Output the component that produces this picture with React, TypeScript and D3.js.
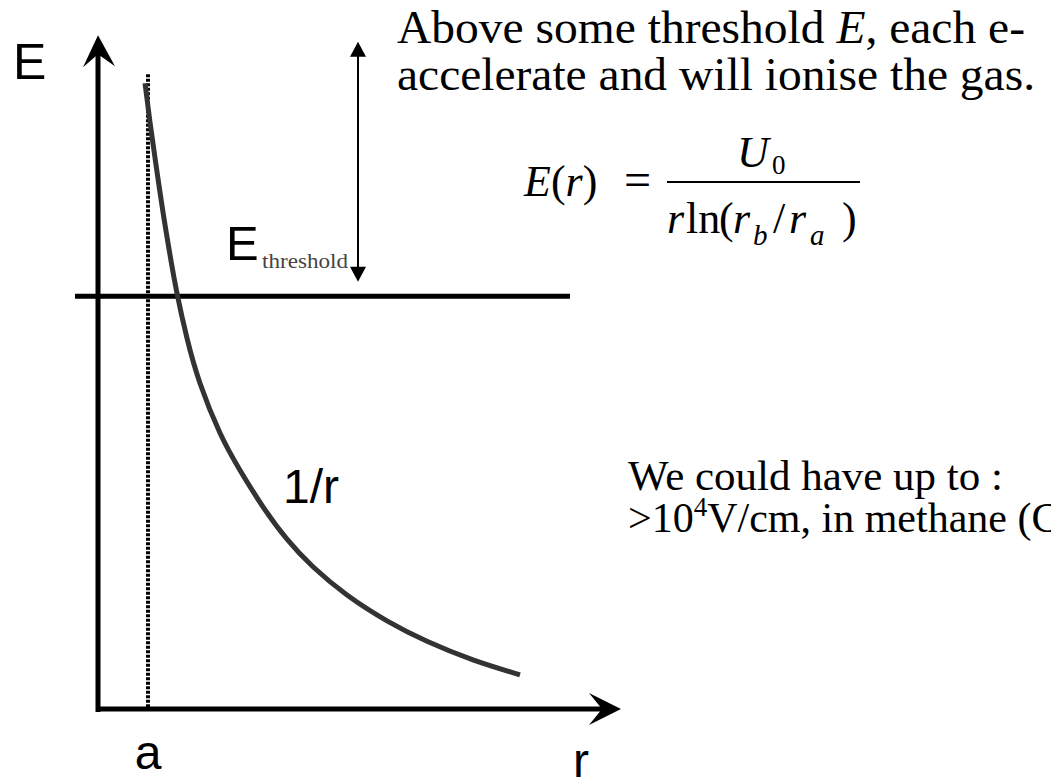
import React from "react";
import * as d3 from "d3";

// Curve E(r) ~ 1/r (r, E in arbitrary units)
const curveR = [0.94, 1.04, 1.16, 1.3, 1.44, 1.58, 1.78, 2.04, 2.44, 2.84, 3.3, 3.78, 4.3, 4.98, 5.78, 6.58, 7.5, 8.44];
const curveE = [10.43, 9.78, 9.07, 8.28, 7.57, 6.93, 6.18, 5.43, 4.6, 3.98, 3.37, 2.83, 2.37, 1.9, 1.47, 1.13, 0.82, 0.57];

const aValue = 1.0; // radius of anode wire
const aTop = 10.58; // top of dotted line
const thresholdE = 6.88;
const thresholdR = [-0.46, 9.44];
const yAxisTop = 11.23;
const xAxisEnd = 10.46;
const dblArrowR = 5.2;
const dblArrowE = [11.12, 7.12];

const axisLabelE = "E";
const axisLabelR = "r";
const aLabel = "a";
const curveLabel = "1/r";

const W = 1051;
const H = 778;

const SANS = "'Liberation Sans', Arial, sans-serif";
const SERIF = "'Liberation Serif', 'Times New Roman', serif";

export default function App() {
  const x = d3.scaleLinear().domain([0, 10]).range([98, 598]);
  const y = d3.scaleLinear().domain([0, 10]).range([709, 109]);

  const pts: [number, number][] = curveR.map((r, i) => [r, curveE[i]]);
  const line = d3
    .line<[number, number]>()
    .x((d) => x(d[0]))
    .y((d) => y(d[1]))
    .curve(d3.curveNatural);

  const x0 = x(0);
  const y0 = y(0);
  const yTop = y(yAxisTop);
  const xEnd = x(xAxisEnd);

  const upArrow = `M${x0},${yTop} L${x0 - 15},${yTop + 32} L${x0},${yTop + 19} L${x0 + 17},${yTop + 31} Z`;
  const rightArrow = `M${xEnd},${y0} L${xEnd - 32},${y0 - 16} L${xEnd - 19},${y0} L${xEnd - 32},${y0 + 16} Z`;

  const dx = x(dblArrowR);
  const dT = y(dblArrowE[0]);
  const dB = y(dblArrowE[1]);

  return (
    <svg
      width={W}
      height={H}
      style={{ position: "fixed", left: 0, top: 0, background: "#fff" }}
    >
      <rect width={W} height={H} fill="#fff" />
      {/* axes */}
      <line x1={x0} y1={yTop + 8} x2={x0} y2={y0 + 3} stroke="#000" strokeWidth={5} />
      <path d={upArrow} fill="#000" />
      <line x1={x0 - 2} y1={y0} x2={xEnd - 10} y2={y0} stroke="#000" strokeWidth={5} />
      <path d={rightArrow} fill="#000" />

      {/* dotted line at a */}
      <line
        x1={x(aValue)}
        y1={y(aTop)}
        x2={x(aValue)}
        y2={y0}
        stroke="#000"
        strokeWidth={4}
        strokeDasharray="3 1.5"
      />

      {/* threshold line */}
      <line
        x1={x(thresholdR[0])}
        y1={y(thresholdE)}
        x2={x(thresholdR[1])}
        y2={y(thresholdE)}
        stroke="#000"
        strokeWidth={5}
      />

      {/* curve */}
      <path d={line(pts) || ""} fill="none" stroke="#333" strokeWidth={5} />

      {/* double arrow */}
      <line x1={dx} y1={dT + 10} x2={dx} y2={dB - 10} stroke="#000" strokeWidth={2} />
      <path d={`M${dx},${dT} L${dx - 8},${dT + 15} L${dx + 8},${dT + 15} Z`} fill="#000" />
      <path d={`M${dx},${dB} L${dx - 8},${dB - 15} L${dx + 8},${dB - 15} Z`} fill="#000" />

      {/* axis labels */}
      <text x={13} y={79} fontFamily={SANS} fontSize={50} fill="#000">
        {axisLabelE}
      </text>
      <text x={x(aValue)} y={769} fontFamily={SANS} fontSize={48} textAnchor="middle" fill="#000">
        {aLabel}
      </text>
      <text x={581} y={777} fontFamily={SANS} fontSize={48} textAnchor="middle" fill="#000">
        {axisLabelR}
      </text>
      <text x={283} y={503} fontFamily={SANS} fontSize={48} fill="#000">
        {curveLabel}
      </text>

      {/* E threshold */}
      <text x={226} y={260} fontFamily={SANS} fontSize={49} fill="#000">
        E
      </text>
      <text
        x={262}
        y={268}
        fontFamily={SERIF}
        fontSize={21}
        fill="#444"
        textLength={86}
        lengthAdjust="spacingAndGlyphs"
      >
        threshold
      </text>

      {/* top text */}
      <text
        x={397}
        y={43}
        fontFamily={SERIF}
        fontSize={46}
        fill="#000"
        textLength={628}
        lengthAdjust="spacingAndGlyphs"
      >
        Above some threshold <tspan fontStyle="italic">E</tspan>, each e-
      </text>
      <text
        x={397}
        y={90}
        fontFamily={SERIF}
        fontSize={46}
        fill="#000"
        textLength={638}
        lengthAdjust="spacingAndGlyphs"
      >
        accelerate and will ionise the gas.
      </text>

      {/* formula */}
      <g fontFamily={SERIF} fontSize={44} fill="#000">
        <text x={524} y={196}>
          <tspan fontStyle="italic">E</tspan>
          <tspan>(</tspan>
          <tspan fontStyle="italic">r</tspan>
          <tspan>)</tspan>
        </text>
        <text x={624} y={196} fontSize={48}>=</text>
        <text x={737} y={167} fontStyle="italic">U</text>
        <text x={772} y={174} fontSize={27}>0</text>
        <line x1={667} y1={182} x2={860} y2={182} stroke="#000" strokeWidth={2} />
        <text y={233}>
          <tspan x={667} fontStyle="italic">r</tspan>
          <tspan x={686}>ln</tspan>
          <tspan x={719}>(</tspan>
          <tspan x={733} fontStyle="italic">r</tspan>
          <tspan x={773}>/</tspan>
          <tspan x={789} fontStyle="italic">r</tspan>
          <tspan x={842}>)</tspan>
        </text>
        <text x={753} y={245} fontSize={29} fontStyle="italic">b</text>
        <text x={810} y={245} fontSize={29} fontStyle="italic">a</text>
      </g>

      {/* bottom text */}
      <g fontFamily={SERIF} fontSize={42} fill="#000">
        <text x={628} y={490} textLength={375} lengthAdjust="spacingAndGlyphs">
          We could have up to :
        </text>
        <text x={628} y={532}>
          {">10"}
          <tspan fontSize={27} dy={-16}>4</tspan>
          <tspan dy={16}>V/cm, in methane (C</tspan>
        </text>
      </g>
    </svg>
  );
}
